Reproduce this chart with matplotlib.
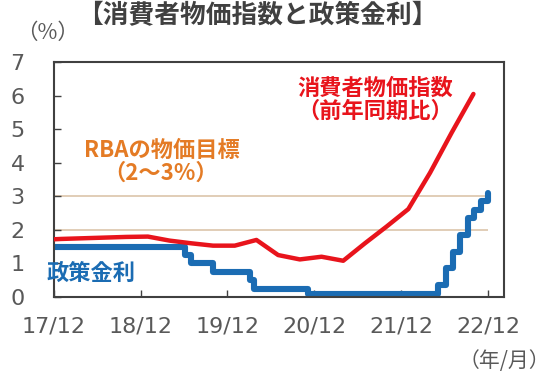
#!/usr/bin/env python3
"""Australian CPI (trimmed mean, y/y) vs RBA cash rate, 2017/12 - 2022/12."""

import matplotlib
matplotlib.use("Agg")
import matplotlib.pyplot as plt

plt.rcParams["font.family"] = ["Noto Sans CJK JP", "DejaVu Sans"]

# x axis: months counted from 2017/12
tick_months = [0, 12, 24, 36, 48, 60]
tick_labels = ["17/12", "18/12", "19/12", "20/12", "21/12", "22/12"]
y_ticks = [0, 1, 2, 3, 4, 5, 6, 7]

# CPI y/y (%), quarterly, plotted at end of quarter
cpi_months = [-2, 1, 4, 7, 10, 13, 16, 19, 22, 25, 28, 31, 34, 37, 40, 43, 46, 49, 52, 55, 58]
cpi_values = [1.7, 1.73, 1.75, 1.77, 1.79, 1.8, 1.68, 1.6, 1.53, 1.53, 1.7, 1.25, 1.12,
              1.2, 1.08, 1.6, 2.1, 2.62, 3.7, 4.9, 6.05]

# RBA cash rate (%), at each change
rate_months = [0, 18.1, 19.0, 22.0, 27.1, 27.6, 35.1, 53.1, 54.2, 55.2, 56.1, 57.2, 58.1, 59.1, 60.0]
rate_values = [1.5, 1.25, 1.0, 0.75, 0.5, 0.25, 0.1, 0.35, 0.85, 1.35, 1.85, 2.35, 2.6, 2.85, 3.1]

target_band = [2, 3]

RED = "#e8141c"
BLUE = "#1b6cb3"
ORANGE = "#e47b25"
GRAY = "#595959"
DARK = "#404040"

fig = plt.figure(figsize=(5.5, 3.82), dpi=100)
ax = fig.add_axes([0.098, 0.2225, 0.818, 0.615])

ax.hlines(target_band, tick_months[0], tick_months[-1], color="#d9c0a3", lw=1.1, zorder=1)
ax.plot(cpi_months, cpi_values, color=RED, lw=3.2, solid_capstyle="round",
        solid_joinstyle="round", zorder=3)
ax.plot(rate_months, rate_values, drawstyle="steps-post", color=BLUE, lw=4.4,
        solid_capstyle="round", solid_joinstyle="round", zorder=2)

ax.set_xlim(0, 62.2)
ax.set_ylim(0, 7)
ax.set_xticks(tick_months)
ax.set_xticklabels(tick_labels, fontfamily="DejaVu Sans")
ax.set_yticks(y_ticks)
ax.set_yticklabels([str(v) for v in y_ticks], fontfamily="DejaVu Sans")
ax.tick_params(direction="in", length=5, width=1, color=DARK, labelcolor=GRAY, labelsize=16)
ax.tick_params(axis="y", pad=21)
ax.tick_params(axis="x", pad=14)
for sp in ax.spines.values():
    sp.set_color(DARK)
    sp.set_linewidth(1.5)

ax.text(14.9, 4.38, "RBAの物価目標", color=ORANGE, fontsize=16, fontweight="bold",
        ha="center", va="center")
ax.text(14.8, 3.69, "（2〜3%）", color=ORANGE, fontsize=16, fontweight="bold",
        ha="center", va="center")
ax.text(44.4, 6.23, "消費者物価指数", color=RED, fontsize=16, fontweight="bold",
        ha="center", va="center")
ax.text(44.4, 5.52, "（前年同期比）", color=RED, fontsize=16, fontweight="bold",
        ha="center", va="center")
ax.text(5.2, 0.71, "政策金利", color=BLUE, fontsize=16, fontweight="bold",
        ha="center", va="center")

fig.text(0.467, 0.959, "【消費者物価指数と政策金利】", color=DARK, fontsize=18.5,
         fontweight="bold", ha="center", va="center")
fig.text(0.0855, 0.9136, "（%）", color=GRAY, fontsize=15.5, ha="center", va="center")
fig.text(0.9164, 0.055, "（年/月）", color=GRAY, fontsize=15, ha="center", va="center")

fig.savefig("out.png", dpi=100)
